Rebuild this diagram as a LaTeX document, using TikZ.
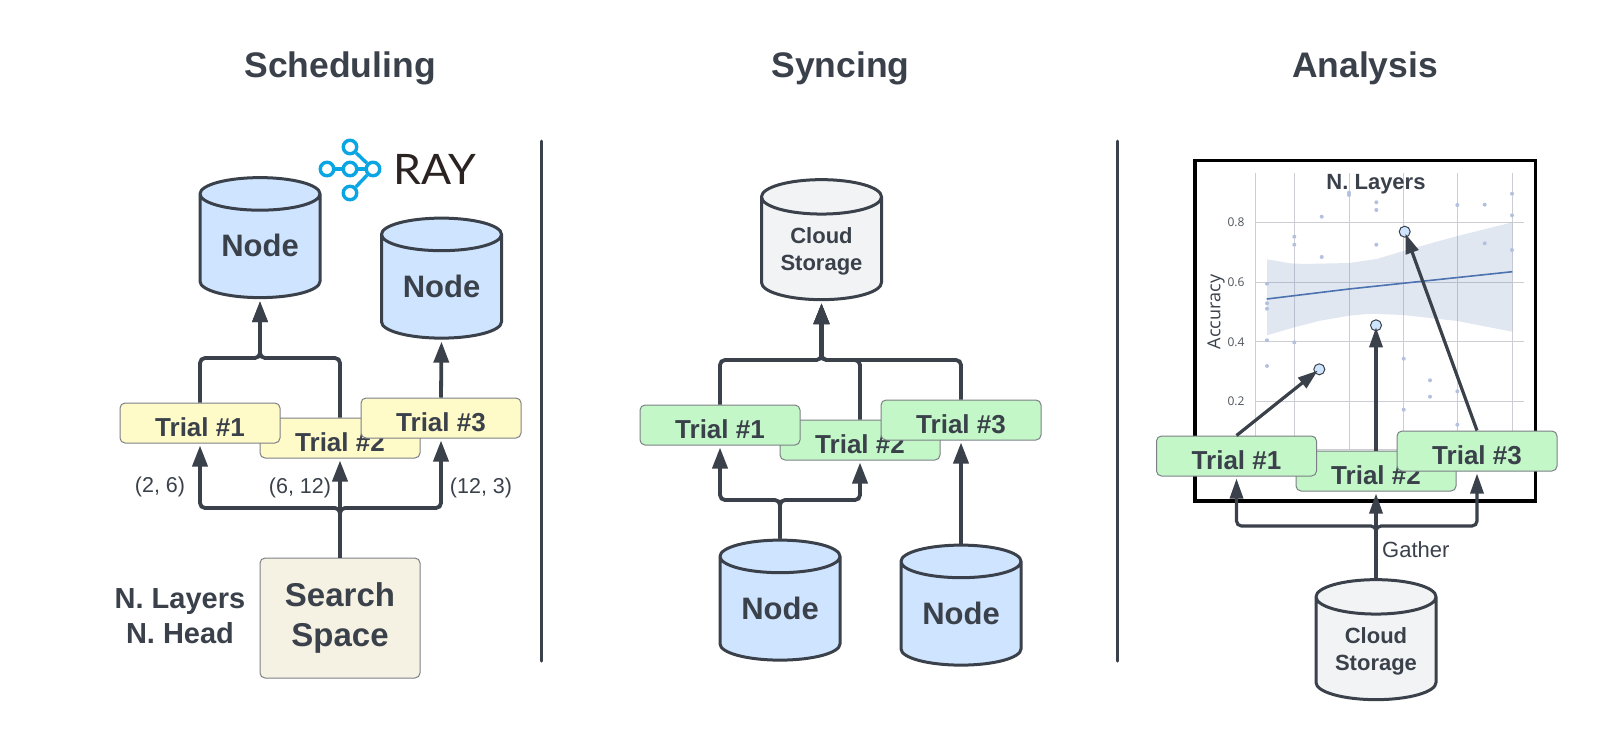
\documentclass[tikz,border=0pt]{standalone}
\usepackage{fontspec}
\setmainfont{Liberation Sans}
\newfontfamily\plotfont{Open Sans}
\newfontfamily\rayfont[FakeStretch=1.06]{Lato}
\usetikzlibrary{arrows.meta,shapes.geometric}
\definecolor{ink}{HTML}{3A414A}
\definecolor{edge}{HTML}{7C8086}
\definecolor{yellowfill}{HTML}{FFFBC9}
\definecolor{greenfill}{HTML}{C3F7C7}
\definecolor{bluefill}{HTML}{CFE4FF}
\definecolor{greyfill}{HTML}{F2F3F5}
\definecolor{sandfill}{HTML}{F5F2E3}
\definecolor{raycol}{HTML}{0AA5E3}
\definecolor{raytext}{HTML}{2A2322}
\definecolor{gridcol}{HTML}{CDCED3}
\definecolor{fitcol}{HTML}{4C72B0}
\definecolor{dotcol}{HTML}{B3C1DF}
\tikzset{
  headtext/.style={font=\fontsize{35.5}{40}\selectfont\bfseries,text=ink,anchor=base},
  trialbox/.style={draw=edge,line width=1pt,rounded corners=5pt,minimum width=160pt,minimum height=40pt,inner sep=0pt,
    text height=26.7pt,text depth=0pt,text=ink,font=\fontsize{26}{31}\selectfont\bfseries},
  trialy/.style={trialbox,fill=yellowfill},
  trialg/.style={trialbox,fill=greenfill},
  barrel/.style={cylinder,shape border rotate=90,shape aspect=0.42,draw=ink,line width=3pt,minimum width=120pt,minimum height=120pt,
    inner sep=0pt,text=ink,align=center},
  nodecyl/.style={barrel,cylinder uses custom fill,cylinder body fill=bluefill,cylinder end fill=bluefill,font=\fontsize{31}{36}\selectfont\bfseries},
  cloudcyl/.style={barrel,cylinder uses custom fill,cylinder body fill=greyfill,cylinder end fill=greyfill,font=\fontsize{22}{27}\selectfont\bfseries},
  link/.style={draw=ink,line width=3.8pt,rounded corners=5pt,shorten >=2pt,-{Triangle[length=21pt,width=15pt]}},
  thinlink/.style={draw=ink,line width=3.2pt,rounded corners=5pt,shorten >=2pt,-{Triangle[length=20pt,width=13pt]}},
  smalltext/.style={font=\fontsize{21.5}{25}\selectfont,text=ink},
  raydot/.style={circle,draw=raycol,line width=3.4pt,fill=white,minimum size=13.5pt,inner sep=0pt},
  target/.style={circle,draw=ink,line width=1pt,fill=bluefill,minimum size=11pt,inner sep=0pt},
  ticktext/.style={font=\plotfont\fontsize{12}{14}\selectfont,text=ink!90,anchor=east},
}
\newcommand{\nodeword}{\raisebox{2pt}{Node}}
\newcommand{\cloudword}{\rule{0pt}{20pt}Cloud\\Storage}
\begin{document}
\begin{tikzpicture}[x=1pt,y=-1pt]
\useasboundingbox (0,0) rectangle (1598,740);
\node[headtext] (headA) at (340,77) {Scheduling};
\node[headtext] (headB) at (840.5,77) {Syncing};
\node[headtext] (headC) at (1365,77) {Analysis};
\draw[draw=ink,line width=3pt,line cap=round] (541,141) -- (541,661);
\draw[draw=ink,line width=3pt,line cap=round] (1117,141) -- (1117,661);

\node[nodecyl] (nodeA) at (260,246.5) {\nodeword};
\node[nodecyl] (nodeB) at (441.5,287) {\nodeword};
\node[trialy] (trialAb) at (340,438) {Trial \#2};
\node[trialy] (trialAa) at (200,423) {Trial \#1};
\node[trialy] (trialAc) at (441,418) {Trial \#3};
\node[draw=edge,line width=1pt,rounded corners=5pt,fill=sandfill,minimum width=160pt,minimum height=120pt,inner sep=0pt,
  align=center,text=ink,font=\fontsize{33}{40}\selectfont\bfseries] (space) at (340,618) {Search\\Space};
\node[font=\fontsize{29}{35}\selectfont\bfseries,text=ink,align=center] (params) at (180,616) {N. Layers\\N. Head};
\node[smalltext] (rangeA) at (160,487) {(2, 6)};
\node[smalltext] (rangeB) at (300,488) {(6, 12)};
\node[smalltext] (rangeC) at (481,488) {(12, 3)};
\coordinate (splitA) at (340,508);
\coordinate (joinA) at (260,358);
\draw[link] (space.north) -- (splitA) -| (trialAa.south);
\draw[link] (space.north) -- (splitA) -| (trialAc.south);
\draw[link] (space.north) -- (trialAb.south);
\draw[link] (trialAa.north) |- (joinA) -- (nodeA.bottom);
\draw[link] (trialAb.north) |- (joinA) -- (nodeA.bottom);
\draw[link] (trialAc.north) -- (nodeB.bottom);

\node[raydot] (rayA) at (350,147) {};
\node[raydot] (rayB) at (327,169) {};
\node[raydot] (rayC) at (350,169) {};
\node[raydot] (rayD) at (373,169) {};
\node[raydot] (rayE) at (350,193) {};
\draw[draw=raycol,line width=3.4pt] (rayA) -- (rayD);
\draw[draw=raycol,line width=3.4pt] (rayE) -- (rayD);
\draw[draw=raycol,line width=3.4pt] (rayB) -- (rayC);
\draw[draw=raycol,line width=3.4pt] (rayC) -- (rayD);
\node[font=\rayfont\fontsize{42}{46}\selectfont,text=raytext,anchor=base west,inner sep=0pt] (rayname) at (393,184) {RAY};

\node[cloudcyl] (cloudA) at (821.5,249) {\cloudword};
\node[nodecyl] (nodeC) at (780,609) {\nodeword};
\node[nodecyl] (nodeD) at (961,614) {\nodeword};
\node[trialg] (trialBb) at (860,440) {Trial \#2};
\node[trialg] (trialBa) at (720,425) {Trial \#1};
\node[trialg] (trialBc) at (961,420) {Trial \#3};
\coordinate (splitB) at (780,500);
\coordinate (joinB) at (821.5,360);
\draw[link] (nodeC.top) -- (splitB) -| (trialBa.south);
\draw[link] (nodeC.top) -- (splitB) -| (trialBb.south);
\draw[link] (nodeD.top) -- (trialBc.south);
\draw[link] (trialBa.north) |- (joinB) -- (cloudA.bottom);
\draw[link] (trialBb.north) |- (joinB) -- (cloudA.bottom);
\draw[link] (trialBc.north) |- (joinB) -- (cloudA.bottom);
\draw[link,line width=5.6pt] (joinB) -- (cloudA.bottom);

\draw[draw=black,fill=white,line width=3.4pt] (1195,160.5) rectangle (1535.5,501);
\foreach \gx in {1255,1294.3,1349.3,1403.3,1457.3,1512.3}
  \draw[gridcol,line width=1pt] (\gx,173) -- (\gx,450);
\foreach \gy in {222.3,282.3,341.7,401.3,449}
  \draw[gridcol,line width=1pt] (1255,\gy) -- (1524,\gy);
\fill[fitcol,opacity=0.17] (1267,259.3) -- (1290,263.3) -- (1303.3,264) -- (1349.3,263) -- (1376.7,259) -- (1403.3,251) -- (1457.3,236)
  -- (1512.3,222.3) -- (1512.3,331.7) -- (1457.3,321) -- (1403.3,315) -- (1370,313.7) -- (1349.3,315.7) -- (1320,320.7)
  -- (1294.3,327.3) -- (1267,335.3) -- cycle;
\foreach \px/\py in {1267/283.7,1267/303.3,1267/308.7,1267/340.3,1267/366,
  1294.3/236.7,1294.3/244.7,1294.3/342.3,1321.7/216.7,1321.7/257,
  1349/192.7,1349/195,1376.3/202.3,1376.3/210,1376.3/244.7,
  1403.7/358.7,1403.7/409.7,1430/380.3,1430/396.7,
  1457.3/205,1457.3/391.3,1457.3/424.7,1484.7/204.7,1484.7/243.3,
  1512/193.7,1512/215.3,1512/250}
  \fill[dotcol] (\px,\py) circle (2);
\draw[fitcol,line width=1.6pt] (1266.7,299) -- (1349,289) -- (1512.3,271.7);
\node[font=\fontsize{22}{26}\selectfont\bfseries,text=ink,anchor=base] (plottitle) at (1376,189) {N. Layers};
\node[font=\plotfont\fontsize{18}{22}\selectfont,text=ink,rotate=90] (plotylabel) at (1216,312) {Accuracy};
\node[ticktext] (tickA) at (1248,222.5) {0.8};
\node[ticktext] (tickB) at (1248,282.5) {0.6};
\node[ticktext] (tickC) at (1248,342) {0.4};
\node[ticktext] (tickD) at (1248,401.5) {0.2};
\node[target] (pointA) at (1319.3,369.3) {};
\node[target] (pointB) at (1376,325.3) {};
\node[target] (pointC) at (1404.7,231.7) {};
\node[trialg] (trialCb) at (1376,471) {Trial \#2};
\node[trialg] (trialCa) at (1236.5,456) {Trial \#1};
\node[trialg] (trialCc) at (1477,451) {Trial \#3};
\node[cloudcyl] (cloudB) at (1376,649) {\cloudword};
\node[font=\fontsize{22}{26}\selectfont,text=ink,anchor=base west,inner sep=0pt] (gather) at (1382,557) {Gather};
\coordinate (splitC) at (1376,526);
\draw[thinlink] (trialCa.north) -- (pointA.center);
\draw[thinlink] (trialCb.north) -- (pointB.center);
\draw[thinlink] (trialCc.north) -- (pointC.center);
\draw[thinlink] (cloudB.top) -- (splitC) -| (trialCa.south);
\draw[thinlink] (cloudB.top) -- (splitC) -| (trialCc.south);
\draw[thinlink] (cloudB.top) -- (trialCb.south);
\end{tikzpicture}
\end{document}
